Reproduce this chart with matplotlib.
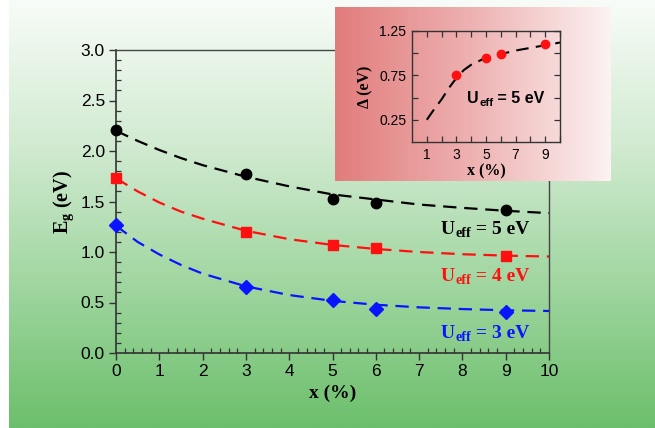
import numpy as np
import matplotlib
matplotlib.use("Agg")
import matplotlib.pyplot as plt
from matplotlib.ticker import MultipleLocator, FixedLocator
from matplotlib.colors import LinearSegmentedColormap

# ---------------- data ----------------
x_pts = [0, 3, 5, 6, 9]
eg_u5 = [2.21, 1.77, 1.52, 1.49, 1.42]
eg_u4 = [1.73, 1.20, 1.07, 1.04, 0.96]
eg_u3 = [1.27, 0.65, 0.52, 0.44, 0.41]

x_fit = [0, 0.5, 1, 1.5, 2, 3, 4, 5, 6, 7, 8, 9, 10]
fit_u5 = [2.20, 2.10, 2.01, 1.93, 1.86, 1.745, 1.65, 1.57, 1.52, 1.47, 1.437, 1.408, 1.385]
fit_u4 = [1.73, 1.60, 1.49, 1.40, 1.33, 1.21, 1.127, 1.07, 1.03, 1.00, 0.978, 0.964, 0.955]
fit_u3 = [1.26, 1.10, 0.976, 0.872, 0.786, 0.66, 0.574, 0.516, 0.478, 0.452, 0.435, 0.423, 0.416]

ins_x = [3, 5, 6, 9]
ins_delta = [0.75, 0.95, 0.99, 1.10]
ins_fit_x = [1, 1.5, 2, 2.5, 3, 3.5, 4, 5, 6, 7, 8, 9, 10]
ins_fit_y = [0.25, 0.37, 0.48, 0.61, 0.72, 0.81, 0.87, 0.95, 0.99, 1.03, 1.06, 1.09, 1.12]

main_yticks = [0.0, 0.5, 1.0, 1.5, 2.0, 2.5, 3.0]
main_xticks = list(range(0, 11))
ins_xticklabels = ['1', '', '3', '', '5', '', '7', '', '9', '']
ins_yticks = [0.25, 0.5, 0.75, 1.0, 1.25]
ins_yticklabels = ['0.25', '', '0.75', '', '1.25']

W, H = 655, 428
fig = plt.figure(figsize=(W / 100, H / 100), dpi=100)
fig.patch.set_facecolor('white')

SANS = 'Liberation Sans'
SERIF = 'Liberation Serif'

# ---------------- background gradient ----------------
bg = fig.add_axes([9 / W, 0, 1 - 9 / W, 1])
bg.set_axis_off()
gcmap = LinearSegmentedColormap.from_list('g', ['#f8fcf8', '#d2ebd2', '#a0d6a0', '#6cbf6c'])
grad = np.linspace(0, 1, 256).reshape(-1, 1)
bg.imshow(grad, aspect='auto', cmap=gcmap, extent=[0, 1, 0, 1], origin='upper')
bg.set_zorder(0)

# ---------------- main axes ----------------
def fpos(l, r, t, b):
    return [l / W, 1 - b / H, (r - l) / W, (b - t) / H]

ax = fig.add_axes(fpos(116, 549, 50, 353))
ax.set_zorder(1)
ax.patch.set_alpha(0)
ax.set_xlim(0, 10)
ax.set_ylim(0, 3.0)

dash = (6, 3.5)
ax.plot(x_fit, fit_u5, color='black', lw=1.6, dashes=dash, zorder=2)
ax.plot(x_fit, fit_u4, color='#ff1010', lw=1.6, dashes=dash, zorder=2)
ax.plot(x_fit, fit_u3, color='#0a14ff', lw=1.6, dashes=dash, zorder=2)
ax.plot(x_pts, eg_u5, 'o', color='black', ms=7.5, clip_on=False, zorder=3)
ax.plot(x_pts, eg_u4, 's', color='#ff1010', ms=7.3, clip_on=False, zorder=3)
ax.plot(x_pts, eg_u3, 'D', color='#0a14ff', ms=6.8, clip_on=False, zorder=3)

ax.set_xticks(main_xticks)
ax.set_yticks(main_yticks)
ax.set_yticklabels([f'{v:.1f}' for v in main_yticks])
ax.xaxis.set_minor_locator(MultipleLocator(0.2))
ax.yaxis.set_minor_locator(MultipleLocator(0.1))
ax.tick_params(which='major', direction='out', length=5, width=1.0, color='#333333',
               labelsize=12.5, pad=3)
ax.tick_params(which='minor', direction='in', length=3.5, width=0.9, color='#333333')
for lab in ax.get_xticklabels() + ax.get_yticklabels():
    lab.set_fontfamily(SANS)
for s in ['left', 'bottom']:
    ax.spines[s].set_color('#333333')
    ax.spines[s].set_linewidth(1.2)
for s in ['top', 'right']:
    ax.spines[s].set_color('#444444')
    ax.spines[s].set_linewidth(1.0)

ax.set_xlabel('x (%)', fontfamily=SERIF, fontweight='bold', fontsize=14, labelpad=4)
ax.set_ylabel(r'E$_\mathregular{g}$ (eV)', fontfamily=SERIF, fontweight='bold', fontsize=14.5, labelpad=3)


def ueff_label(axis, x, y, color, family, size, rest):
    t1 = axis.text(x, y, 'U', color=color, fontfamily=family, fontweight='bold',
                   fontsize=size, transform=axis.transAxes, ha='left', va='baseline', zorder=5)
    t2 = axis.annotate('eff', xy=(1, 0), xycoords=t1, xytext=(0.5, -size * 0.12),
                       textcoords='offset points', color=color, fontfamily=family,
                       fontweight='bold', fontsize=size * 0.72, ha='left', va='bottom', zorder=5)
    axis.annotate(rest, xy=(1, 0), xycoords=(t2, t1), color=color, fontfamily=family,
                  fontweight='bold', fontsize=size, ha='left', va='bottom', zorder=5)


def axfrac(px, py):
    return ((px - 116) / (549 - 116), (353 - py) / (353 - 50))

ueff_label(ax, *axfrac(441, 234), 'black', SERIF, 14, ' = 5 eV')
ueff_label(ax, *axfrac(441, 281), '#ff1010', SERIF, 14, ' = 4 eV')
ueff_label(ax, *axfrac(441, 338), '#0a14ff', SERIF, 14, ' = 3 eV')

# ---------------- inset background ----------------
ib = fig.add_axes(fpos(335, 611, 7, 181))
ib.set_zorder(3)
ib.set_axis_off()
pcmap = LinearSegmentedColormap.from_list('p', ['#e27c7c', '#eeb2b2', '#fdf2f2'])
ib.imshow(np.linspace(0, 1, 256).reshape(1, -1), aspect='auto', cmap=pcmap,
          extent=[0, 1, 0, 1])

# ---------------- inset axes ----------------
ia = fig.add_axes(fpos(412, 560, 31, 142))
ia.set_zorder(4)
ia.patch.set_alpha(0)
ia.set_xlim(0, 10)
ia.set_ylim(0, 1.25)
ia.plot(ins_fit_x, ins_fit_y, color='black', lw=1.5, dashes=(6, 3.5), zorder=2)
ia.plot(ins_x, ins_delta, 'o', color='#ff1010', ms=6, zorder=3)
ia.xaxis.set_major_locator(FixedLocator(list(range(1, 11))))
ia.set_xticklabels(ins_xticklabels)
ia.set_yticks(ins_yticks)
ia.set_yticklabels(ins_yticklabels)
ia.tick_params(direction='in', length=4, width=0.9, color='#333333', labelsize=10,
               top=True, right=True, pad=4)
for lab in ia.get_xticklabels() + ia.get_yticklabels():
    lab.set_fontfamily(SANS)
for s in ia.spines.values():
    s.set_color('#333333')
    s.set_linewidth(1.0)
ia.set_xlabel('x (%)', fontfamily=SERIF, fontweight='bold', fontsize=11.5, labelpad=1)
ia.set_ylabel('\u0394 (eV)', fontfamily=SERIF, fontweight='bold', fontsize=11.5, labelpad=4)

def iafrac(px, py):
    return ((px - 412) / (560 - 412), (142 - py) / (142 - 31))

ueff_label(ia, *iafrac(467, 103), 'black', SANS, 11.5, ' = 5 eV')

fig.savefig('out.png', dpi=100)
